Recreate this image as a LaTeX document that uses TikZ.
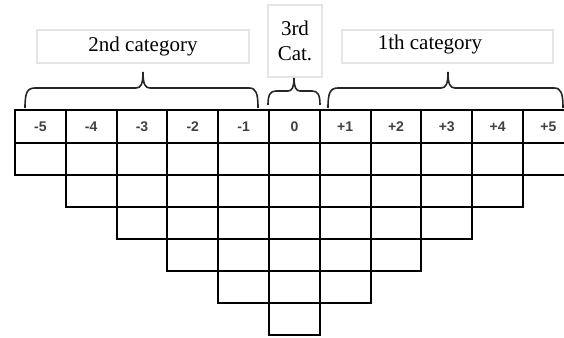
\documentclass[tikz,border=0pt]{standalone}
\usepackage{fontspec}
\setmainfont{Liberation Serif}
\newfontfamily\numfont{Liberation Sans}
\begin{document}
\begin{tikzpicture}[x=0.5pt,y=-0.5pt,
  cell/.style={draw=black,line width=1pt,minimum width=25.4pt,minimum height=16pt,
    inner sep=0pt,outer sep=0pt,anchor=north west},
  hcell/.style={cell,minimum height=16.5pt,font=\numfont\bfseries\fontsize{7}{8}\selectfont,text=black!75},
  catbox/.style={draw=black!10,line width=0.6pt,inner sep=0pt,outer sep=0pt},
  cattext/.style={font=\fontsize{10.5}{12.5}\selectfont,inner sep=0pt},
  catbrace/.style={line width=0.8pt,draw=black!85}]
\useasboundingbox (0,0) rectangle (564,338);
% header row
\foreach \i [count=\k from 0] in {-5,-4,-3,-2,-1,0,+1,+2,+3,+4,+5}
  \node[hcell] (h\k) at ({15+50.8*\k},110) {\i};
% triangle of cells
\foreach \r in {1,...,6}{
  \pgfmathtruncatemacro\ca{\r-1}
  \pgfmathtruncatemacro\cb{11-\r}
  \foreach \c in {\ca,...,\cb}
    \node[cell] (c\r-\c) at ({15+50.8*\c},{143+32*(\r-1)}) {};
}
% category boxes
\node[catbox,cattext,minimum width=106pt,minimum height=16.5pt] (b2) at (143,46.5) {2nd category};
\node[catbox,cattext,minimum width=27pt,minimum height=36pt,align=center] (b3) at (295,41) {3rd\\Cat.};
\node[catbox,minimum width=105.5pt,minimum height=16.5pt] (b1) at (447.5,46.5) {};
\node[cattext] (t1) at (430,44) {1th category};
% braces
\coordinate (L2) at (25,108);  \coordinate (T2) at (143,72);  \coordinate (R2) at (258,108);
\coordinate (L3) at (268,105); \coordinate (T3) at (294,78);  \coordinate (R3) at (320,105);
\coordinate (L1) at (328,108); \coordinate (T1) at (448,72);  \coordinate (R1) at (563,108);
\draw[catbrace] (L2) .. controls (25,93) and (27,88) .. (35,88) -- (136,88)
  .. controls (141,88) and (143,84) .. (T2)
  .. controls (143,84) and (145,88) .. (150,88) -- (249,88)
  .. controls (256,88) and (258,93) .. (R2);
\draw[catbrace] (L3) .. controls (268,95) and (270,91) .. (276,91) -- (288,91)
  .. controls (292,91) and (294,87) .. (T3)
  .. controls (294,87) and (296,91) .. (300,91) -- (312,91)
  .. controls (318,91) and (320,95) .. (R3);
\draw[catbrace] (L1) .. controls (328,93) and (330,88) .. (338,88) -- (441,88)
  .. controls (446,88) and (448,84) .. (T1)
  .. controls (448,84) and (450,88) .. (455,88) -- (554,88)
  .. controls (561,88) and (563,93) .. (R1);
\end{tikzpicture}
\end{document}
